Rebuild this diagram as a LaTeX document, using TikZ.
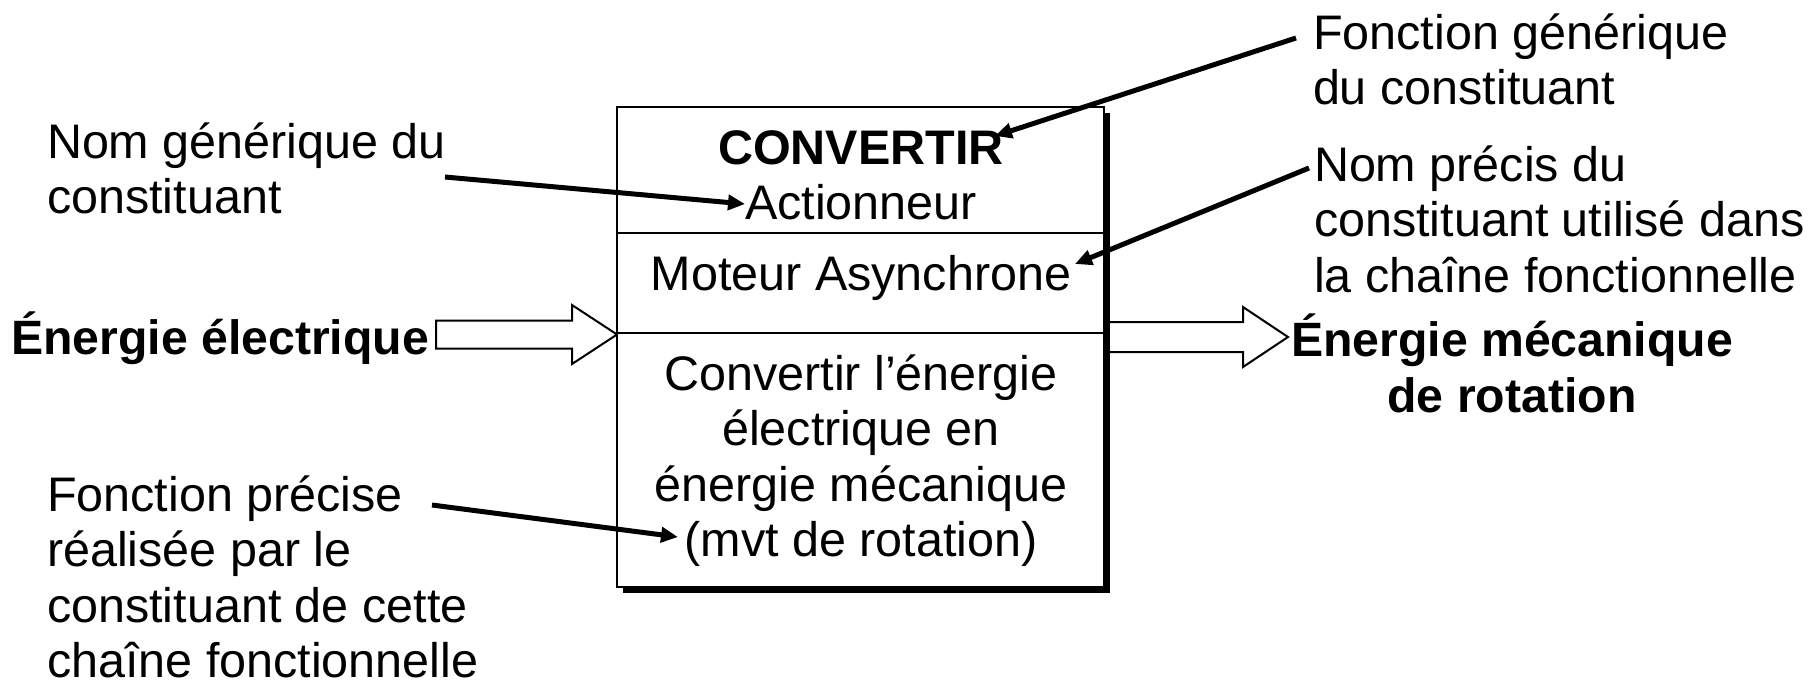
\documentclass[tikz,border=0pt]{standalone}
\usepackage{fontspec}
\setmainfont{Liberation Sans}
\usetikzlibrary{arrows.meta}
\newcommand{\mlines}[2][l]{\begin{tabular}[t]{@{}#1@{}}#2\end{tabular}}
\begin{document}
\begin{tikzpicture}[x=1pt,y=-1pt,
  txt/.style={inner sep=0pt,outer sep=0pt,font=\fontsize{48.5}{55.5}\selectfont},
  btxt/.style={txt,font=\fontsize{48.2}{56}\selectfont\bfseries},
  leader/.style={line width=5pt,-{Triangle[length=17pt,width=15pt]}},
  blockarrow/.style={draw,line width=2pt,fill=white,line join=miter},
  boxline/.style={line width=2pt},
  ]
\useasboundingbox (0,0) rectangle (1818,686);

% block arrows
\draw[blockarrow] (436,320.5) -- (572,320.5) -- (572,305) -- (617,334.5) -- (572,364) -- (572,348.5) -- (436,348.5) -- cycle;
\draw[blockarrow] (1100,322) -- (1243,322) -- (1243,307) -- (1288,337) -- (1243,367) -- (1243,352) -- (1100,352) -- cycle;

% box with shadow
\coordinate (bTL) at (617,107);
\coordinate (bBR) at (1104,587);
\coordinate (sTL) at (623,113);
\coordinate (sBR) at (1110,593);
\fill[black] (sTL) rectangle (sBR);
\draw[boxline,fill=white] (bTL) rectangle (bBR);
\coordinate (d1l) at (617,233);
\coordinate (d1r) at (1104,233);
\coordinate (d2l) at (617,333);
\coordinate (d2r) at (1104,333);
\draw[boxline] (d1l) -- (d1r);
\draw[boxline] (d2l) -- (d2r);

% box texts
\node[txt,anchor=base] (top) at (861,164) {\mlines[c]{\textbf{CONVERTIR}\\Actionneur}};
\node[txt,anchor=base] (mid) at (861,290) {Moteur Asynchrone};
\node[txt,anchor=base] (bot) at (861,390) {\mlines[c]{Convertir l’énergie\\électrique en\\énergie mécanique\\(mvt de rotation)}};

% side labels
\node[txt,anchor=base west] (nomgen) at (47,158) {\mlines{Nom générique du\\constituant}};
\node[txt,align=left,anchor=south west] (fonprec) at (47,678) {Fonction précise\\réalisée par le\\constituant de cette\\chaîne fonctionnelle};
\node[txt,anchor=base west] (fongen) at (1313,49) {\mlines{Fonction générique\\du constituant}};
\node[txt,anchor=base west] (nomprec) at (1314,181) {\mlines{Nom précis du\\constituant utilisé dans\\la chaîne fonctionnelle}};
\node[btxt,anchor=base east] (ein) at (429,354) {Énergie électrique};
\node[btxt,anchor=base] (eout) at (1512,356) {\mlines[c]{Énergie mécanique\\de rotation}};

% leaders
\coordinate (a1s) at (445,177);
\coordinate (a1e) at (745,204);
\coordinate (a2s) at (1296,38);
\coordinate (a2e) at (995,136);
\coordinate (a3s) at (1309,168);
\coordinate (a3e) at (1075,264);
\coordinate (a4s) at (432,505);
\coordinate (a4e) at (678,537);
\draw[leader] (a1s) -- (a1e);
\draw[leader] (a2s) -- (a2e);
\draw[leader] (a3s) -- (a3e);
\draw[leader] (a4s) -- (a4e);
\end{tikzpicture}
\end{document}
